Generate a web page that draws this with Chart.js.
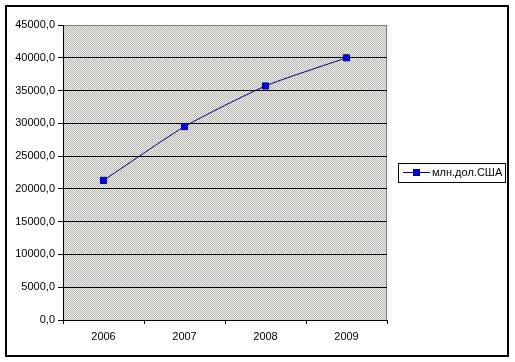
<!DOCTYPE html>
<html>
<head>
<meta charset="utf-8">
<script src="https://cdn.jsdelivr.net/npm/chart.js@4"></script>
<style>
  html, body { margin: 0; padding: 0; background: #fff; }
  #wrap { width: 515px; height: 362px; position: relative; }
</style>
</head>
<body>
<div id="wrap"><canvas id="myChart" width="515" height="362"></canvas></div>
<script>
var years = ["2006", "2007", "2008", "2009"];
var values = [21300, 29500, 35700, 40000];
var seriesName = "млн.дол.США";

// dotted grey texture like the excel plot area
function makePattern(ctx) {
    var c = document.createElement("canvas");
    c.width = 4; c.height = 4;
    var p = c.getContext("2d");
    p.fillStyle = "#f2f2ea";
    p.fillRect(0, 0, 4, 4);
    p.fillStyle = "#b4b4b4";
    for (var y = 0; y < 4; y++) {
        for (var x = 0; x < 4; x++) {
            if ((x + y) % 2 === 0) p.fillRect(x, y, 1, 1);
        }
    }
    return ctx.createPattern(c, "repeat");
}

var framePlugin = {
    id: "frame",
    beforeDraw: function (chart) {
        var ctx = chart.ctx, a = chart.chartArea;
        ctx.save();
        ctx.fillStyle = "#fff";
        ctx.fillRect(0, 0, chart.width, chart.height);
        ctx.fillStyle = makePattern(ctx);
        ctx.fillRect(a.left, a.top, a.right - a.left, a.bottom - a.top);
        ctx.strokeStyle = "#808080";
        ctx.lineWidth = 1;
        ctx.strokeRect(a.left + 0.5, a.top + 0.5, a.right - a.left - 1, a.bottom - a.top);
        ctx.restore();
    },
    afterDraw: function (chart) {
        var ctx = chart.ctx;
        ctx.save();
        // outer border
        ctx.strokeStyle = "#000";
        ctx.lineWidth = 2;
        ctx.strokeRect(6, 6, 502, 350);
        // legend
        ctx.lineWidth = 1;
        ctx.fillStyle = "#fff";
        ctx.fillRect(398, 163, 107, 19);
        ctx.strokeRect(398.5, 163.5, 107, 19);
        ctx.strokeStyle = "#000080";
        ctx.beginPath();
        ctx.moveTo(403, 172.5);
        ctx.lineTo(430, 172.5);
        ctx.stroke();
        ctx.fillStyle = "#0000ff";
        ctx.fillRect(413.5, 169.5, 6, 6);
        ctx.strokeRect(413.5, 169.5, 6, 6);
        ctx.fillStyle = "#000";
        ctx.font = "11px 'Liberation Sans', Arial, sans-serif";
        ctx.textBaseline = "middle";
        ctx.fillText(chart.data.datasets[0].label, 432, 173);
        ctx.restore();
    }
};

var ctx = document.getElementById("myChart").getContext("2d");

var myChart = new Chart(ctx, {
    type: "line",
    data: {
        labels: years,
        datasets: [{
            label: seriesName,
            data: values,
            borderColor: "#000080",
            borderWidth: 1,
            tension: 0.2,
            pointStyle: "rect",
            pointRadius: 4.3,
            pointBackgroundColor: "#0000ff",
            pointBorderColor: "#000080",
            pointBorderWidth: 1
        }]
    },
    options: {
        responsive: false,
        animation: false,
        devicePixelRatio: 1,
        layout: { padding: { left: 0, top: 25, right: 128, bottom: 0 } },
        plugins: {
            legend: { display: false },
            tooltip: { enabled: false }
        },
        scales: {
            y: {
                min: 0,
                max: 45000,
                afterFit: function (s) { s.width = 63; },
                ticks: {
                    stepSize: 5000,
                    color: "#000",
                    padding: 3,
                    font: { family: "'Liberation Sans', Arial, sans-serif", size: 11 },
                    callback: function (v) { return v.toFixed(1).replace(".", ","); }
                },
                grid: {
                    color: function (c) { return c.tick && c.tick.value === 45000 ? "#808080" : "#000"; },
                    tickColor: "#000",
                    tickLength: 5,
                    lineWidth: 1
                },
                border: { color: "#000", width: 1 }
            },
            x: {
                offset: true,
                afterFit: function (s) { s.height = 42; },
                ticks: {
                    color: "#000",
                    padding: 6,
                    maxRotation: 0,
                    font: { family: "'Liberation Sans', Arial, sans-serif", size: 11 }
                },
                grid: {
                    offset: true,
                    drawOnChartArea: false,
                    tickColor: "#000",
                    tickLength: 4
                },
                border: { color: "#000", width: 1 }
            }
        }
    },
    plugins: [framePlugin]
});
</script>
</body>
</html>
